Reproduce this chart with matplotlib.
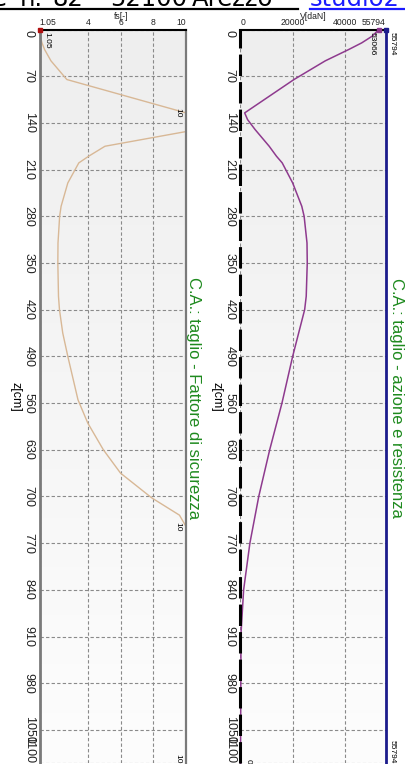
import numpy as np
import matplotlib
matplotlib.use("Agg")
import matplotlib.pyplot as plt
from matplotlib.colors import LinearSegmentedColormap

W, H, DPI = 406, 764, 100

# depth axis (cm)
z_ticks = [0, 70, 140, 210, 280, 350, 420, 490, 560, 630, 700, 770, 840, 910, 980, 1050, 1100]

# shear action along the pile, V [daN]
z_v = [0, 10, 20, 30, 47, 75, 125, 135, 150, 175, 190, 200, 230, 265, 280, 320, 350, 400,
       420, 490, 560, 630, 700, 770, 840, 905, 1100]
v_action = [53066, 50500, 46500, 41500, 32500, 20500, 1600, 2700, 5600, 11000, 13800,
            16000, 20000, 23500, 24400, 25500, 25600, 25200, 24600, 20000, 15900, 11200,
            7000, 3600, 1200, 200, 0]
v_resist = 55794
v_ticks = [0, 20000, 40000, 55794]

# safety factor (capped at 10)
z_fs = [0, 10, 20, 30, 47, 75, 125, 153, 175, 190, 200, 230, 265, 280, 320, 350, 400, 420,
        455, 490, 555, 590, 630, 665, 702, 728, 745, 1100]
fs_vals = [1.05, 1.1, 1.2, 1.36, 1.75, 2.72, 10, 10, 5.05, 4.05, 3.45, 2.78, 2.37, 2.28,
           2.18, 2.17, 2.21, 2.27, 2.47, 2.78, 3.4, 4.0, 4.95, 6.0, 7.9, 9.6, 10, 10]
fs_ticks = [1.05, 4, 6, 8, 10]

FONT = ["Liberation Sans", "DejaVu Sans"]
GREEN = "#1e8a1e"


def px_rect(x0, y0, x1, y1):
    return [x0 / W, 1 - y1 / H, (x1 - x0) / W, (y1 - y0) / H]


def fx(x):
    return x / W


def fy(y):
    return 1 - y / H


fig = plt.figure(figsize=(W / DPI, H / DPI), dpi=DPI)
fig.patch.set_facecolor("white")

grad = LinearSegmentedColormap.from_list("bg", ["#eeeeee", "#fdfdfd"])


def setup(ax, xlim, xticks, xlabels):
    ax.imshow(np.linspace(0, 1, 256).reshape(-1, 1), cmap=grad, aspect="auto",
              extent=[0, 1, 0, 1], transform=ax.transAxes, zorder=0)
    ax.set_xlim(*xlim)
    ax.set_ylim(1100, 0)
    ax.xaxis.tick_top()
    ax.set_xticks(xticks)
    ax.set_xticklabels(xlabels, fontsize=6.2, family=FONT, color="#222222")
    xl = ax.get_xticklabels()
    xl[0].set_ha("left")
    xl[-1].set_ha("right")
    ax.set_yticks(z_ticks)
    ax.set_yticklabels([str(t) for t in z_ticks], rotation=-90, fontsize=9,
                       family=FONT, color="#222222")
    yl = ax.get_yticklabels()
    for lab in yl:
        lab.set_va("center")
    yl[0].set_va("top")
    yl[-1].set_va("bottom")
    ax.tick_params(axis="both", length=0)
    ax.tick_params(axis="y", pad=3.5)
    ax.tick_params(axis="x", pad=2)
    ax.grid(True, color="#8a8a8a", lw=0.8, ls=(0, (3, 2)))
    ax.set_axisbelow(True)
    ax.set_ylabel("z[cm]", rotation=-90, fontsize=9, family=FONT, labelpad=5,
                  va="center")
    ax.spines["bottom"].set_visible(False)
    ax.spines["top"].set_color("black")
    ax.spines["top"].set_linewidth(1.5)
    for sp in ax.spines.values():
        sp.set_zorder(4)


# --- safety factor panel
ax_fs = fig.add_axes(px_rect(39.5, 29.5, 186, 763.3))
setup(ax_fs, (1.05, 10), fs_ticks, ["1.05", "4", "6", "8", "10"])
ax_fs.spines["left"].set_color("#7a7a7a")
ax_fs.spines["left"].set_linewidth(2)
ax_fs.spines["right"].set_color("#7a7a7a")
ax_fs.spines["right"].set_linewidth(1.6)
ax_fs.plot(fs_vals, z_fs, color="#d8b896", lw=1.0, zorder=3)
ax_fs.plot([fs_vals[0]], [z_fs[0]], marker="s", ms=3, color="#b01010", clip_on=False,
           zorder=5)
ax_fs.annotate(f"{fs_vals[0]:.2f}", (fs_vals[0], z_fs[0]), xytext=(3, -2),
               textcoords="offset points", rotation=-90, fontsize=6, family=FONT,
               ha="left", va="top")
for zi in (125, 745, 1100):
    k = z_fs.index(zi)
    ax_fs.annotate(f"{fs_vals[k]:.0f}", (fs_vals[k], zi), xytext=(-3, 0),
                   textcoords="offset points", rotation=-90, fontsize=6, family=FONT,
                   ha="right", va="bottom" if zi == 1100 else "center")

# --- shear action / resistance panel
ax_v = fig.add_axes(px_rect(240.5, 29.5, 386, 763.3))
setup(ax_v, (0, v_resist), v_ticks, [str(t) for t in v_ticks])
ax_v.spines["left"].set_visible(False)
ax_v.spines["right"].set_visible(False)
ax_v.axvline(0, color="black", lw=2.2, ls=(0, (7, 2)), zorder=4, clip_on=False)
ax_v.axvline(v_resist, color="#1c1c8c", lw=2.0, zorder=4, clip_on=False)
ax_v.plot(v_action, z_v, color="#8e3a8e", lw=1.1, zorder=3, clip_on=False)
ax_v.plot([v_action[0]], [z_v[0]], marker="s", ms=3, color="#8e3a8e", clip_on=False,
          zorder=5)
ax_v.plot([v_resist], [0], marker="s", ms=3, color="#1c1c8c", clip_on=False, zorder=5)
ax_v.annotate(f"{v_action[0]}", (v_action[0], z_v[0]), xytext=(-2, -2),
              textcoords="offset points", rotation=-90, fontsize=6, family=FONT,
              ha="right", va="top")
ax_v.annotate(f"{v_resist}", (v_resist, 0), xytext=(2, -2),
              textcoords="offset points", rotation=-90, fontsize=6, family=FONT,
              ha="left", va="top", annotation_clip=False)
ax_v.annotate(f"{v_resist}", (v_resist, 1100), xytext=(2, 0),
              textcoords="offset points", rotation=-90, fontsize=6, family=FONT,
              ha="left", va="bottom", annotation_clip=False)
ax_v.annotate(f"{v_action[-1]}", (v_action[-1], z_v[-1]), xytext=(3, 0),
              textcoords="offset points", rotation=-90, fontsize=6, family=FONT,
              ha="left", va="bottom", annotation_clip=False)

# axis names on top
fig.text(fx(121), fy(16.5), "fs[-]", fontsize=6.2, family=FONT, ha="center",
         va="center", color="#222222")
fig.text(fx(313), fy(16.5), "V[daN]", fontsize=6.2, family=FONT, ha="center",
         va="center", color="#222222")

# panel titles
fig.text(fx(397), fy(398), "C.A.: taglio - azione e resistenza", rotation=-90,
         fontsize=12, family=FONT, color=GREEN, ha="center", va="center")
fig.text(fx(193), fy(398), "C.A.: taglio - Fattore di sicurezza", rotation=-90,
         fontsize=12, family=FONT, color=GREEN, ha="center", va="center")

# page header (top cut by the page edge)
hdr = [("e", -8, "black"), ("n.", 20, "black"), ("82", 52, "black"),
       ("52100", 110, "black"), ("Arezzo", 192, "black"), ("studio2", 310, "#1a1aff")]
for txt, x, col in hdr:
    fig.text(fx(x), fy(6.5), txt, fontsize=17.5, family="DejaVu Sans", color=col,
             ha="left", va="baseline")
fig.add_artist(plt.Line2D([0, fx(298)], [fy(8.7), fy(8.7)], color="black", lw=1.6))
fig.add_artist(plt.Line2D([fx(310), 1], [fy(8.7), fy(8.7)], color="#1a1aff", lw=1.6))

fig.savefig("out.png", dpi=DPI, facecolor="white")
